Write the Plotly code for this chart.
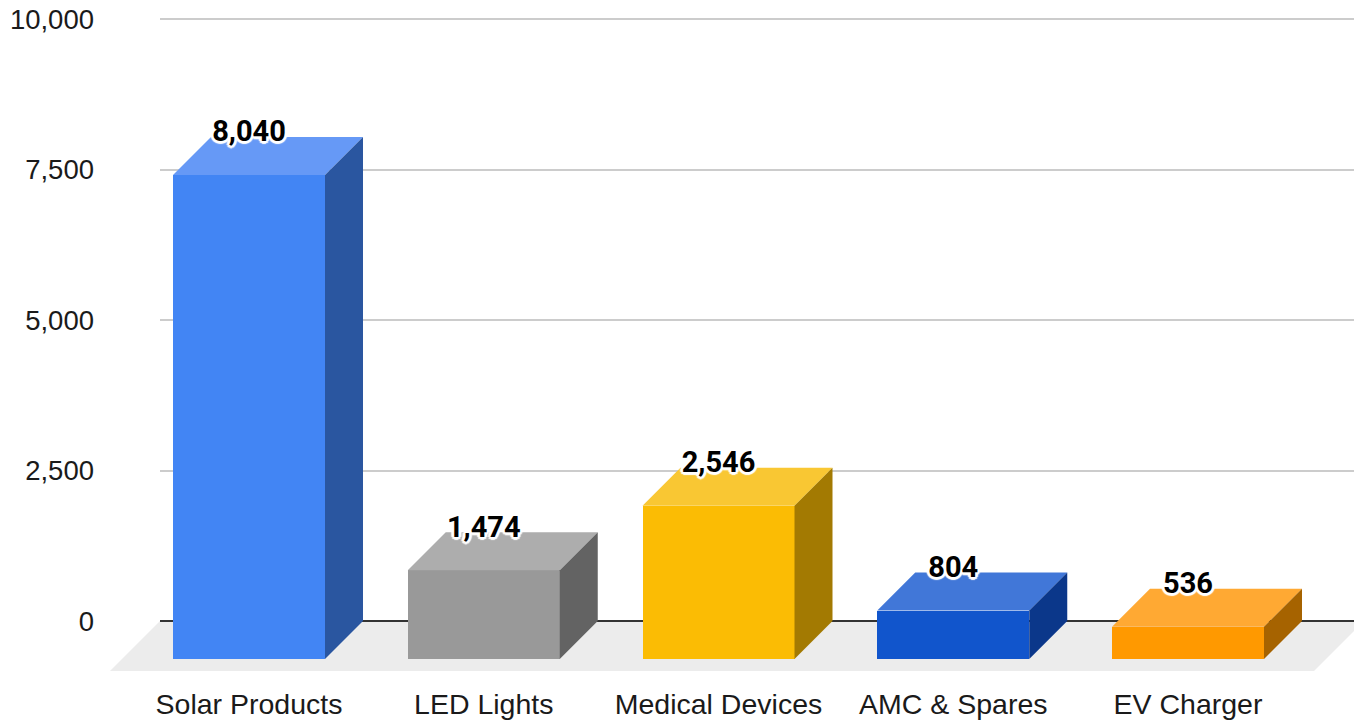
import plotly.graph_objects as go

# ---- data ----
categories = ["Solar Products", "LED Lights", "Medical Devices", "AMC & Spares", "EV Charger"]
values = [8040, 1474, 2546, 804, 536]
value_labels = ["8,040", "1,474", "2,546", "804", "536"]
y_ticks = [0, 2500, 5000, 7500, 10000]
y_tick_labels = ["0", "2,500", "5,000", "7,500", "10,000"]

# ---- style ----
front_colors = ["#4285f4", "#999999", "#fbbc04", "#1155cc", "#ff9900"]
top_colors = ["#6699f6", "#adadad", "#f9c733", "#4177d8", "#ffa933"]
side_colors = ["#2a56a0", "#636363", "#a37a02", "#0b378a", "#a66300"]

W, H = 1354, 720
AXIS_BOTTOM_PX = 680
ZERO_PX = 621
PX_PER_UNIT = 0.0602
FIRST_CENTER_PX = 249
SPACING_PX = 234.75
BAR_PX = 152
DEPTH_PX = 38

y_range = [(ZERO_PX - AXIS_BOTTOM_PX) / PX_PER_UNIT, ZERO_PX / PX_PER_UNIT]
x_range = [-FIRST_CENTER_PX / SPACING_PX, (W - FIRST_CENTER_PX) / SPACING_PX]
dx = DEPTH_PX / SPACING_PX
dy = DEPTH_PX / PX_PER_UNIT
half = BAR_PX / SPACING_PX / 2
positions = list(range(len(categories)))

fig = go.Figure()

# invisible trace so that the gridline subplot exists
fig.add_trace(go.Scatter(x=[0, 1], y=[0, 0], mode="lines", line=dict(width=0, color="rgba(0,0,0,0)"),
                         xaxis="x", yaxis="y", hoverinfo="skip", showlegend=False))

# front faces
fig.add_trace(go.Bar(
    x=positions, y=values, base=-dy, width=2 * half, xaxis="x2", yaxis="y2",
    marker=dict(color=front_colors, line=dict(width=0)), hoverinfo="skip", showlegend=False,
))

# top and side faces derived from the values
for p, v, tc, sc in zip(positions, values, top_colors, side_colors):
    fr, fl = p + half, p - half
    fig.add_trace(go.Scatter(
        x=[fl, fr, fr + dx, fl + dx, fl], y=[v - dy, v - dy, v, v, v - dy],
        mode="lines", fill="toself", fillcolor=tc, line=dict(width=0),
        xaxis="x2", yaxis="y2", hoverinfo="skip", showlegend=False,
    ))
    fig.add_trace(go.Scatter(
        x=[fr, fr + dx, fr + dx, fr, fr], y=[-dy, 0, v, v - dy, -dy],
        mode="lines", fill="toself", fillcolor=sc, line=dict(width=0),
        xaxis="x2", yaxis="y2", hoverinfo="skip", showlegend=False,
    ))

# value labels with a white halo
halo = ", ".join(f"white {a}px {b}px 1px" for a, b in
                 [(3, 0), (-3, 0), (0, 3), (0, -3), (2, 2), (-2, 2), (2, -2), (-2, -2)])
fig.add_trace(go.Scatter(
    x=positions, y=[v + 3 / PX_PER_UNIT for v in values],
    mode="text", text=value_labels, textposition="middle center", cliponaxis=False,
    textfont=dict(family="Roboto", size=29, color="#000000", weight="bold", shadow=halo),
    xaxis="x2", yaxis="y2", hoverinfo="skip", showlegend=False,
))

# floor, under everything
floor_depth = 50
floor_left, floor_right = 160, 1364
floor_front_y = ZERO_PX + floor_depth
path = (f"M {floor_left/W} {1-ZERO_PX/H} L {floor_right/W} {1-ZERO_PX/H} "
        f"L {(floor_right-floor_depth)/W} {1-floor_front_y/H} "
        f"L {(floor_left-floor_depth)/W} {1-floor_front_y/H} Z")
fig.add_shape(type="path", path=path, xref="paper", yref="paper", layer="below",
              fillcolor="#ececec", line=dict(width=0))

dom_y = [1 - AXIS_BOTTOM_PX / H, 1]
fig.update_layout(
    width=W, height=H, margin=dict(l=0, r=0, t=0, b=0),
    paper_bgcolor="white", plot_bgcolor="rgba(0,0,0,0)", showlegend=False,
    bargap=0,
    xaxis=dict(domain=[160 / W, 1], range=[0, 1], visible=False, fixedrange=True),
    yaxis=dict(
        domain=dom_y, range=y_range, anchor="x", tickmode="array",
        tickvals=y_ticks, ticktext=y_tick_labels, showgrid=True, gridcolor="#cccccc", gridwidth=2,
        zeroline=True, zerolinecolor="#333333", zerolinewidth=2, showline=False, ticks="",
        ticklabelstandoff=65, fixedrange=True,
        tickfont=dict(family="Liberation Sans", size=27.5, color="#1a1a1a"),
    ),
    xaxis2=dict(
        domain=[0, 1], range=x_range, anchor="y2", tickmode="array", tickvals=positions,
        ticktext=categories, showgrid=False, zeroline=False, showline=False, ticks="",
        ticklabelstandoff=4, fixedrange=True,
        tickfont=dict(family="Liberation Sans", size=28.5, color="#1a1a1a"),
    ),
    yaxis2=dict(domain=dom_y, range=y_range, anchor="x2", visible=False, fixedrange=True),
)

fig.write_html("out.html", config=dict(displayModeBar=False),
               post_script="document.body.style.margin='0';")
